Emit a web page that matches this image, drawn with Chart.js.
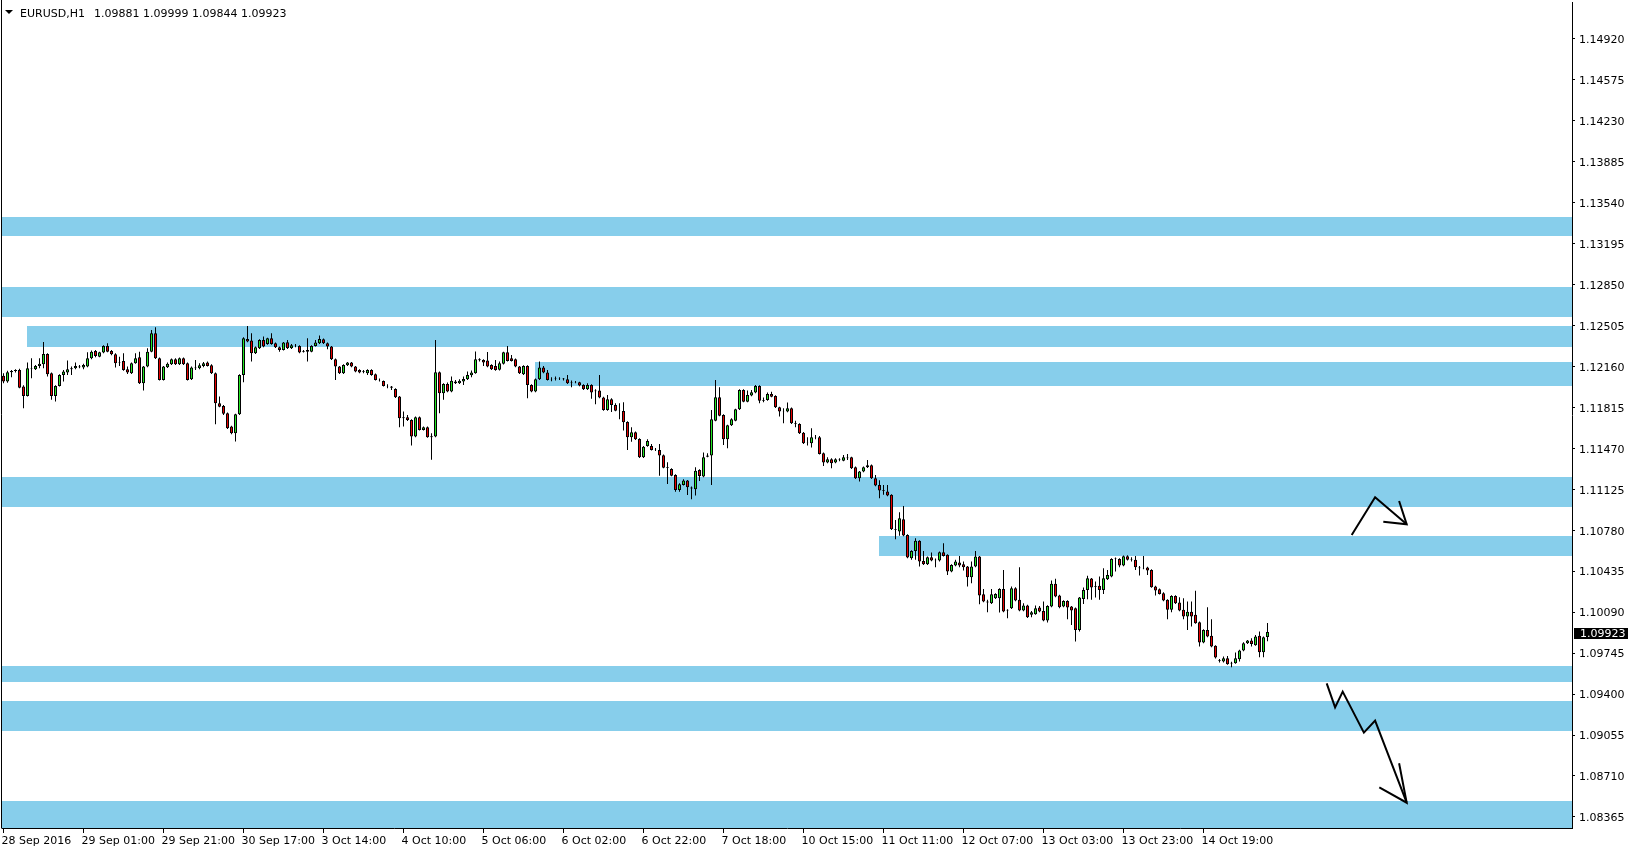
<!DOCTYPE html>
<html>
<head>
<meta charset="utf-8">
<title>EURUSD,H1</title>
<script src="https://cdn.jsdelivr.net/npm/chart.js@4.4.1/dist/chart.umd.min.js"></script>
<style>
  html, body { margin: 0; padding: 0; background: #fff; overflow: hidden; }
  #chart { display: block; }
</style>
</head>
<body>
<canvas id="chart" width="1632" height="852"></canvas>
<script>
/* ================= DATA ================= */
const symbol = 'EURUSD';
const period = 'H1';

// hourly candles, bar 0 = 28 Sep 2016 05:00
const opens = [
  1.12079, 1.12031, 1.12109, 1.12121, 1.12129, 1.11989, 1.11910, 1.12143, 1.12135, 1.12163,
  1.12177, 1.12264, 1.12101, 1.11910, 1.11994, 1.12087, 1.12107, 1.12135, 1.12143, 1.12157,
  1.12149, 1.12157, 1.12227, 1.12289, 1.12241, 1.12275, 1.12331, 1.12289, 1.12261, 1.12191,
  1.12205, 1.12135, 1.12101, 1.12185, 1.12236, 1.12017, 1.12157, 1.12283, 1.12438, 1.12227,
  1.12045, 1.12152, 1.12177, 1.12219, 1.12177, 1.12227, 1.12185, 1.12051, 1.12149, 1.12143,
  1.12163, 1.12191, 1.12168, 1.12101, 1.11848, 1.11826, 1.11764, 1.11652, 1.11596, 1.11756,
  1.12087, 1.12390, 1.12376, 1.12269, 1.12311, 1.12382, 1.12348, 1.12396, 1.12354, 1.12320,
  1.12297, 1.12362, 1.12311, 1.12337, 1.12331, 1.12281, 1.12297, 1.12283, 1.12331, 1.12354,
  1.12387, 1.12354, 1.12326, 1.12219, 1.12157, 1.12101, 1.12168, 1.12191, 1.12157, 1.12129,
  1.12112, 1.12101, 1.12129, 1.12093, 1.12045, 1.12036, 1.11994, 1.11989, 1.11969, 1.11905,
  1.11722, 1.11731, 1.11708, 1.11568, 1.11731, 1.11624, 1.11647, 1.11562, 1.11568, 1.12110,
  1.11933, 1.12011, 1.11947, 1.12031, 1.12017, 1.12031, 1.12051, 1.12084, 1.12101, 1.12219,
  1.12213, 1.12208, 1.12171, 1.12163, 1.12131, 1.12180, 1.12278, 1.12227, 1.12219, 1.12157,
  1.12093, 1.12163, 1.12003, 1.11947, 1.12051, 1.12149, 1.12107, 1.12051, 1.12053, 1.12056,
  1.12050, 1.12050, 1.12025, 1.12025, 1.12025, 1.12002, 1.11966, 1.12002, 1.11949, 1.11955,
  1.11896, 1.11792, 1.11882, 1.11834, 1.11786, 1.11783, 1.11691, 1.11562, 1.11604, 1.11548,
  1.11393, 1.11489, 1.11489, 1.11461, 1.11455, 1.11410, 1.11309, 1.11295, 1.11245, 1.11118,
  1.11161, 1.11197, 1.11138, 1.11124, 1.11287, 1.11231, 1.11399, 1.11408, 1.11702, 1.11899,
  1.11750, 1.11545, 1.11663, 1.11702, 1.11798, 1.11960, 1.11862, 1.11913, 1.11938, 1.11994,
  1.11870, 1.11876, 1.11927, 1.11910, 1.11814, 1.11783, 1.11778, 1.11806, 1.11680, 1.11674,
  1.11601, 1.11517, 1.11511, 1.11562, 1.11562, 1.11427, 1.11349, 1.11377, 1.11349, 1.11374,
  1.11365, 1.11391, 1.11393, 1.11309, 1.11217, 1.11273, 1.11309, 1.11326, 1.11217, 1.11161,
  1.11110, 1.11105, 1.11077, 1.10788, 1.10768, 1.10872, 1.10740, 1.10544, 1.10605, 1.10690,
  1.10521, 1.10493, 1.10552, 1.10530, 1.10524, 1.10594, 1.10572, 1.10431, 1.10482, 1.10507,
  1.10493, 1.10473, 1.10384, 1.10473, 1.10558, 1.10241, 1.10179, 1.10165, 1.10207, 1.10207,
  1.10285, 1.10103, 1.10123, 1.10291, 1.10193, 1.10103, 1.10145, 1.10067, 1.10072, 1.10128,
  1.10100, 1.10019, 1.10137, 1.10328, 1.10229, 1.10137, 1.10184, 1.10137, 1.10123, 1.09940,
  1.10201, 1.10277, 1.10372, 1.10302, 1.10311, 1.10277, 1.10367, 1.10389, 1.10541, 1.10538,
  1.10482, 1.10560, 1.10532, 1.10530, 1.10465, 1.10459, 1.10465, 1.10445, 1.10305, 1.10283,
  1.10249, 1.10193, 1.10109, 1.10226, 1.10170, 1.10109, 1.10053, 1.10092, 1.10067, 1.10005,
  1.09834, 1.09940, 1.09890, 1.09806, 1.09685, 1.09674, 1.09701, 1.09657, 1.09660, 1.09693,
  1.09766, 1.09828, 1.09851, 1.09811, 1.09890, 1.09752, 1.09881
];
const highs = [
  1.12101, 1.12123, 1.12129, 1.12135, 1.12138, 1.12000, 1.12191, 1.12227, 1.12171, 1.12227,
  1.12365, 1.12269, 1.12107, 1.12000, 1.12093, 1.12129, 1.12208, 1.12157, 1.12191, 1.12171,
  1.12180, 1.12278, 1.12292, 1.12297, 1.12283, 1.12337, 1.12354, 1.12297, 1.12269, 1.12241,
  1.12269, 1.12157, 1.12191, 1.12269, 1.12283, 1.12163, 1.12311, 1.12466, 1.12488, 1.12233,
  1.12163, 1.12191, 1.12225, 1.12227, 1.12233, 1.12233, 1.12191, 1.12157, 1.12213, 1.12185,
  1.12196, 1.12199, 1.12177, 1.12107, 1.11905, 1.11834, 1.11770, 1.11658, 1.11761, 1.12093,
  1.12404, 1.12499, 1.12438, 1.12326, 1.12387, 1.12410, 1.12401, 1.12438, 1.12359, 1.12326,
  1.12365, 1.12382, 1.12348, 1.12348, 1.12337, 1.12297, 1.12396, 1.12337, 1.12382, 1.12418,
  1.12393, 1.12359, 1.12331, 1.12225, 1.12163, 1.12177, 1.12196, 1.12196, 1.12163, 1.12135,
  1.12129, 1.12135, 1.12135, 1.12098, 1.12056, 1.12039, 1.12008, 1.11994, 1.11975, 1.11910,
  1.11779, 1.11750, 1.11714, 1.11736, 1.11736, 1.11652, 1.11652, 1.11596, 1.12382, 1.12115,
  1.12017, 1.12023, 1.12073, 1.12045, 1.12051, 1.12073, 1.12115, 1.12124, 1.12284, 1.12227,
  1.12219, 1.12281, 1.12177, 1.12213, 1.12199, 1.12283, 1.12331, 1.12255, 1.12225, 1.12163,
  1.12168, 1.12168, 1.12008, 1.12056, 1.12199, 1.12163, 1.12129, 1.12067, 1.12073, 1.12067,
  1.12061, 1.12087, 1.12039, 1.12036, 1.12030, 1.12008, 1.12016, 1.12008, 1.11966, 1.12087,
  1.11904, 1.11918, 1.11890, 1.11848, 1.11848, 1.11856, 1.11696, 1.11646, 1.11610, 1.11553,
  1.11489, 1.11545, 1.11506, 1.11472, 1.11506, 1.11416, 1.11351, 1.11301, 1.11250, 1.11175,
  1.11208, 1.11203, 1.11147, 1.11309, 1.11292, 1.11433, 1.11427, 1.11792, 1.12044, 1.11983,
  1.11755, 1.11668, 1.11722, 1.11803, 1.11966, 1.11966, 1.11955, 1.11960, 1.12002, 1.12000,
  1.11896, 1.11938, 1.11946, 1.11915, 1.11820, 1.11806, 1.11854, 1.11812, 1.11702, 1.11680,
  1.11607, 1.11562, 1.11638, 1.11581, 1.11573, 1.11433, 1.11393, 1.11385, 1.11385, 1.11385,
  1.11413, 1.11422, 1.11399, 1.11315, 1.11278, 1.11315, 1.11371, 1.11332, 1.11245, 1.11200,
  1.11161, 1.11161, 1.11082, 1.10866, 1.10931, 1.10984, 1.10746, 1.10611, 1.10712, 1.10695,
  1.10605, 1.10558, 1.10591, 1.10541, 1.10600, 1.10670, 1.10577, 1.10493, 1.10530, 1.10563,
  1.10516, 1.10479, 1.10516, 1.10605, 1.10563, 1.10285, 1.10193, 1.10285, 1.10249, 1.10291,
  1.10445, 1.10114, 1.10305, 1.10299, 1.10468, 1.10165, 1.10151, 1.10100, 1.10145, 1.10142,
  1.10179, 1.10148, 1.10356, 1.10370, 1.10235, 1.10190, 1.10190, 1.10142, 1.10128, 1.10218,
  1.10297, 1.10395, 1.10378, 1.10347, 1.10389, 1.10459, 1.10445, 1.10544, 1.10549, 1.10544,
  1.10566, 1.10569, 1.10552, 1.10563, 1.10479, 1.10563, 1.10471, 1.10451, 1.10311, 1.10288,
  1.10257, 1.10198, 1.10232, 1.10232, 1.10215, 1.10207, 1.10179, 1.10179, 1.10269, 1.10010,
  1.09946, 1.10131, 1.10030, 1.09811, 1.09696, 1.09716, 1.09721, 1.09671, 1.09749, 1.09772,
  1.09836, 1.09856, 1.09870, 1.09898, 1.09926, 1.09884, 1.09999
];
const lows = [
  1.12017, 1.12022, 1.12067, 1.12107, 1.11975, 1.11806, 1.11905, 1.12059, 1.12129, 1.12143,
  1.12143, 1.12073, 1.11877, 1.11863, 1.11989, 1.12031, 1.12087, 1.12087, 1.12135, 1.12143,
  1.12135, 1.12152, 1.12219, 1.12236, 1.12236, 1.12269, 1.12278, 1.12253, 1.12149, 1.12163,
  1.12123, 1.12095, 1.12095, 1.12180, 1.12011, 1.11955, 1.12152, 1.12278, 1.12222, 1.12039,
  1.12039, 1.12146, 1.12171, 1.12171, 1.12171, 1.12171, 1.12039, 1.12045, 1.12129, 1.12135,
  1.12152, 1.12157, 1.12095, 1.11672, 1.11815, 1.11750, 1.11632, 1.11588, 1.11526, 1.11750,
  1.12025, 1.12362, 1.12199, 1.12264, 1.12306, 1.12320, 1.12340, 1.12342, 1.12314, 1.12283,
  1.12292, 1.12306, 1.12306, 1.12320, 1.12269, 1.12275, 1.12199, 1.12278, 1.12326, 1.12348,
  1.12348, 1.12303, 1.12213, 1.12045, 1.12095, 1.12095, 1.12163, 1.12152, 1.12109, 1.12101,
  1.12101, 1.12087, 1.12081, 1.12039, 1.12031, 1.11989, 1.11975, 1.11961, 1.11893, 1.11646,
  1.11652, 1.11700, 1.11492, 1.11562, 1.11619, 1.11619, 1.11557, 1.11372, 1.11562, 1.11764,
  1.11877, 1.11941, 1.11941, 1.12011, 1.12011, 1.12003, 1.12045, 1.12068, 1.12096, 1.12199,
  1.12163, 1.12152, 1.12129, 1.12123, 1.12125, 1.12174, 1.12199, 1.12199, 1.12152, 1.12095,
  1.12087, 1.11891, 1.11941, 1.11941, 1.12045, 1.12101, 1.12039, 1.12034, 1.12039, 1.12045,
  1.12039, 1.12011, 1.11983, 1.12016, 1.11991, 1.11960, 1.11960, 1.11887, 1.11840, 1.11890,
  1.11786, 1.11786, 1.11775, 1.11781, 1.11713, 1.11618, 1.11455, 1.11525, 1.11539, 1.11388,
  1.11388, 1.11483, 1.11450, 1.11447, 1.11239, 1.11301, 1.11169, 1.11234, 1.11104, 1.11104,
  1.11155, 1.11076, 1.11040, 1.11071, 1.11194, 1.11225, 1.11393, 1.11161, 1.11696, 1.11739,
  1.11497, 1.11469, 1.11657, 1.11696, 1.11792, 1.11856, 1.11856, 1.11907, 1.11932, 1.11848,
  1.11856, 1.11870, 1.11899, 1.11809, 1.11736, 1.11680, 1.11772, 1.11674, 1.11646, 1.11590,
  1.11506, 1.11492, 1.11475, 1.11545, 1.11416, 1.11321, 1.11343, 1.11301, 1.11343, 1.11360,
  1.11360, 1.11371, 1.11295, 1.11211, 1.11189, 1.11267, 1.11304, 1.11211, 1.11150, 1.11049,
  1.11077, 1.11066, 1.10782, 1.10704, 1.10732, 1.10729, 1.10544, 1.10530, 1.10530, 1.10473,
  1.10487, 1.10487, 1.10518, 1.10468, 1.10516, 1.10558, 1.10403, 1.10426, 1.10476, 1.10468,
  1.10440, 1.10305, 1.10333, 1.10468, 1.10156, 1.10173, 1.10089, 1.10159, 1.10201, 1.10086,
  1.10089, 1.10038, 1.10117, 1.10182, 1.10097, 1.10097, 1.10041, 1.10047, 1.10067, 1.10089,
  1.10013, 1.10002, 1.10131, 1.10215, 1.10123, 1.10131, 1.10030, 1.09982, 1.09842, 1.09926,
  1.10159, 1.10198, 1.10193, 1.10213, 1.10193, 1.10243, 1.10361, 1.10384, 1.10431, 1.10468,
  1.10476, 1.10524, 1.10516, 1.10445, 1.10398, 1.10451, 1.10403, 1.10294, 1.10229, 1.10238,
  1.10182, 1.10030, 1.10089, 1.10159, 1.10097, 1.10030, 1.09940, 1.09968, 1.09991, 1.09800,
  1.09828, 1.09879, 1.09794, 1.09699, 1.09665, 1.09665, 1.09646, 1.09626, 1.09654, 1.09674,
  1.09761, 1.09822, 1.09800, 1.09806, 1.09710, 1.09710, 1.09844
];
const closes = [
  1.12031, 1.12109, 1.12121, 1.12129, 1.11980, 1.11910, 1.12143, 1.12138, 1.12163, 1.12180,
  1.12264, 1.12093, 1.11910, 1.11994, 1.12087, 1.12115, 1.12135, 1.12143, 1.12163, 1.12152,
  1.12171, 1.12227, 1.12283, 1.12247, 1.12278, 1.12331, 1.12283, 1.12261, 1.12185, 1.12196,
  1.12129, 1.12107, 1.12185, 1.12227, 1.12017, 1.12157, 1.12283, 1.12438, 1.12227, 1.12045,
  1.12157, 1.12180, 1.12219, 1.12177, 1.12227, 1.12177, 1.12045, 1.12149, 1.12143, 1.12168,
  1.12185, 1.12163, 1.12101, 1.11848, 1.11820, 1.11759, 1.11638, 1.11596, 1.11756, 1.12087,
  1.12396, 1.12368, 1.12269, 1.12320, 1.12382, 1.12326, 1.12396, 1.12348, 1.12320, 1.12297,
  1.12359, 1.12311, 1.12337, 1.12334, 1.12275, 1.12286, 1.12283, 1.12331, 1.12359, 1.12390,
  1.12354, 1.12326, 1.12219, 1.12157, 1.12101, 1.12171, 1.12191, 1.12157, 1.12115, 1.12107,
  1.12118, 1.12129, 1.12087, 1.12045, 1.12042, 1.11994, 1.11992, 1.11980, 1.11899, 1.11722,
  1.11731, 1.11708, 1.11568, 1.11731, 1.11624, 1.11647, 1.11562, 1.11571, 1.12110, 1.11933,
  1.12011, 1.11947, 1.12037, 1.12017, 1.12037, 1.12053, 1.12087, 1.12107, 1.12219, 1.12210,
  1.12191, 1.12157, 1.12135, 1.12129, 1.12185, 1.12278, 1.12205, 1.12205, 1.12157, 1.12101,
  1.12163, 1.12003, 1.11947, 1.12051, 1.12149, 1.12107, 1.12045, 1.12053, 1.12056, 1.12059,
  1.12056, 1.12016, 1.12022, 1.12028, 1.11997, 1.11966, 1.12002, 1.11938, 1.11955, 1.11896,
  1.11792, 1.11882, 1.11834, 1.11786, 1.11783, 1.11688, 1.11562, 1.11604, 1.11545, 1.11393,
  1.11483, 1.11531, 1.11455, 1.11464, 1.11408, 1.11306, 1.11304, 1.11239, 1.11118, 1.11166,
  1.11197, 1.11141, 1.11130, 1.11281, 1.11236, 1.11393, 1.11408, 1.11713, 1.11899, 1.11744,
  1.11545, 1.11663, 1.11713, 1.11798, 1.11960, 1.11862, 1.11918, 1.11941, 1.11994, 1.11870,
  1.11876, 1.11927, 1.11904, 1.11814, 1.11778, 1.11781, 1.11806, 1.11680, 1.11674, 1.11596,
  1.11511, 1.11520, 1.11562, 1.11559, 1.11422, 1.11349, 1.11377, 1.11343, 1.11377, 1.11371,
  1.11393, 1.11385, 1.11301, 1.11217, 1.11273, 1.11309, 1.11326, 1.11217, 1.11155, 1.11113,
  1.11116, 1.11071, 1.10788, 1.10782, 1.10880, 1.10734, 1.10549, 1.10605, 1.10690, 1.10516,
  1.10493, 1.10552, 1.10524, 1.10527, 1.10594, 1.10563, 1.10431, 1.10487, 1.10516, 1.10482,
  1.10468, 1.10384, 1.10473, 1.10558, 1.10229, 1.10179, 1.10170, 1.10241, 1.10243, 1.10285,
  1.10094, 1.10109, 1.10291, 1.10187, 1.10103, 1.10145, 1.10047, 1.10089, 1.10123, 1.10094,
  1.10019, 1.10142, 1.10328, 1.10221, 1.10131, 1.10184, 1.10128, 1.10103, 1.09940, 1.10213,
  1.10277, 1.10375, 1.10297, 1.10308, 1.10277, 1.10375, 1.10403, 1.10538, 1.10546, 1.10482,
  1.10560, 1.10530, 1.10538, 1.10468, 1.10459, 1.10457, 1.10440, 1.10299, 1.10271, 1.10243,
  1.10187, 1.10109, 1.10226, 1.10165, 1.10103, 1.10053, 1.10092, 1.10053, 1.09996, 1.09834,
  1.09940, 1.09884, 1.09800, 1.09707, 1.09679, 1.09701, 1.09651, 1.09663, 1.09701, 1.09766,
  1.09828, 1.09851, 1.09822, 1.09884, 1.09752, 1.09879, 1.09923
];

// time axis: a label every 20 bars
const xTickBars = [0, 20, 40, 60, 80, 100, 120, 140, 160, 180, 200, 220, 240, 260, 280, 300];
const xTickLabels = [
  '28 Sep 2016', '29 Sep 01:00', '29 Sep 21:00', '30 Sep 17:00', '3 Oct 14:00', '4 Oct 10:00',
  '5 Oct 06:00', '6 Oct 02:00', '6 Oct 22:00', '7 Oct 18:00', '10 Oct 15:00', '11 Oct 11:00',
  '12 Oct 07:00', '13 Oct 03:00', '13 Oct 23:00', '14 Oct 19:00'
];
const yTickValues = [
  1.08365, 1.08710, 1.09055, 1.09400, 1.09745, 1.10090, 1.10435, 1.10780, 1.11125, 1.11470,
  1.11815, 1.12160, 1.12505, 1.12850, 1.13195, 1.13540, 1.13885, 1.14230, 1.14575, 1.14920
];

// support / resistance zones (start bar, null = whole chart)
const zoneFrom   = [null,    null,    6,       133,     null,    219,     null,    null,    null];
const zoneTop    = [1.13415, 1.12826, 1.12499, 1.12199, 1.11231, 1.10731, 1.09637, 1.09342, 1.08500];
const zoneBottom = [1.13258, 1.12578, 1.12325, 1.11997, 1.10978, 1.10563, 1.09505, 1.09092, 1.08200];

// hand drawn arrows (bar, price)
const arrowUpX      = [337.05, 342.9, 350.8];
const arrowUpY      = [1.10739, 1.11057, 1.10829];
const arrowUpHeadX  = [348.9, 350.8, 344.95];
const arrowUpHeadY  = [1.11025, 1.10829, 1.10851];
const arrowDownX     = [330.8, 332.9, 334.8, 340.1, 342.9, 350.8];
const arrowDownY     = [1.09490, 1.09288, 1.09420, 1.09075, 1.09176, 1.08485];
const arrowDownHeadX = [348.9, 350.8, 343.95];
const arrowDownHeadY = [1.08817, 1.08485, 1.08615];

/* ================= STYLE ================= */
const BULL = '#22e622';
const BEAR = '#e60000';
const ZONE = '#87ceeb';

Chart.defaults.font.family = "'DejaVu Sans'";
Chart.defaults.font.size = 11;
Chart.defaults.color = '#000';

/* ================= HELPERS ================= */
function points(xs, ys) {
    return xs.map((x, i) => ({ x: x, y: ys[i] }));
}

function arrowDataset(xs, ys) {
    return {
        type: 'line',
        data: points(xs, ys),
        borderColor: '#000',
        borderWidth: 2,
        pointRadius: 0,
        fill: false,
        tension: 0,
        order: -1
    };
}

/* ================= PLUGINS ================= */
const zonePlugin = {
    id: 'zones',
    beforeDatasetsDraw(chart) {
        const { ctx, chartArea, scales: { x, y } } = chart;
        ctx.save();
        ctx.fillStyle = ZONE;
        zoneTop.forEach((top, i) => {
            const x1 = zoneFrom[i] === null ? chartArea.left : Math.floor(x.getPixelForValue(zoneFrom[i]));
            const y1 = Math.round(y.getPixelForValue(top));
            const y2 = Math.min(Math.round(y.getPixelForValue(zoneBottom[i])), chartArea.bottom);
            ctx.fillRect(x1, y1, chartArea.right - x1, y2 - y1);
        });
        ctx.restore();
    }
};

const framePlugin = {
    id: 'frame',
    afterDraw(chart) {
        const { ctx, chartArea, scales: { y } } = chart;
        const n = closes.length - 1;
        ctx.save();

        // left frame line
        ctx.strokeStyle = '#000';
        ctx.lineWidth = 1;
        ctx.beginPath();
        ctx.moveTo(chartArea.left - 0.5, 0);
        ctx.lineTo(chartArea.left - 0.5, chartArea.bottom + 0.5);
        ctx.stroke();

        // header: symbol + last bar OHLC
        ctx.fillStyle = '#000';
        ctx.beginPath();
        ctx.moveTo(5, 10);
        ctx.lineTo(13, 10);
        ctx.lineTo(9, 14);
        ctx.closePath();
        ctx.fill();
        ctx.font = "11px 'DejaVu Sans'";
        ctx.textBaseline = 'alphabetic';
        ctx.fillText(symbol + ',' + period, 20, 17);
        ctx.fillText([opens[n], highs[n], lows[n], closes[n]].map(v => v.toFixed(5)).join(' '), 94, 17);

        // current price tag
        const py = Math.round(y.getPixelForValue(closes[n]));
        ctx.fillRect(chartArea.right + 2, py - 4, 54, 11);
        ctx.fillStyle = '#fff';
        ctx.textBaseline = 'middle';
        ctx.fillText(closes[n].toFixed(5), chartArea.right + 8, py + 2);
        ctx.restore();
    }
};

/* ================= CHART ================= */
function renderChart() {
    const count = Math.min(opens.length, highs.length, lows.length, closes.length);
    const wicks = [];
    const bodies = [];
    const colors = [];
    for (let i = 0; i < count; i++) {
        wicks.push({ x: i, y: [lows[i], highs[i]] });
        bodies.push({ x: i, y: [opens[i], closes[i]] });
        colors.push(closes[i] >= opens[i] ? BULL : BEAR);
    }

    new Chart(document.getElementById('chart'), {
        type: 'bar',
        data: {
            datasets: [
                {
                    data: bodies,
                    backgroundColor: colors,
                    borderColor: '#000',
                    borderWidth: 1,
                    borderSkipped: false,
                    barThickness: 3,
                    inflateAmount: 0,
                    grouped: false,
                    order: 1
                },
                {
                    data: wicks,
                    backgroundColor: '#000',
                    borderWidth: 0,
                    barThickness: 1,
                    inflateAmount: 0,
                    grouped: false,
                    order: 2
                },
                arrowDataset(arrowUpX, arrowUpY),
                arrowDataset(arrowUpHeadX, arrowUpHeadY),
                arrowDataset(arrowDownX, arrowDownY),
                arrowDataset(arrowDownHeadX, arrowDownHeadY)
            ]
        },
        options: {
            responsive: false,
            animation: false,
            events: [],
            layout: { padding: { left: 2, top: 2, right: 0, bottom: 0 } },
            plugins: { legend: { display: false }, tooltip: { enabled: false } },
            scales: {
                x: {
                    type: 'linear',
                    min: -0.375,
                    max: 392.125,
                    offset: false,
                    bounds: 'data',
                    grid: { drawOnChartArea: false, drawTicks: true, tickLength: 5, color: '#000', offset: false },
                    border: { display: true, color: '#000', width: 1 },
                    ticks: {
                        autoSkip: false,
                        maxRotation: 0,
                        minRotation: 0,
                        align: 'start',
                        labelOffset: -2,
                        padding: 2,
                        color: '#000',
                        callback: (value) => xTickLabels[xTickBars.indexOf(value)]
                    },
                    afterBuildTicks: (scale) => { scale.ticks = xTickBars.map(v => ({ value: v })); },
                    afterFit: (scale) => {
                        scale.height = 24;
                        scale.paddingLeft = 0;
                        scale.paddingRight = 0;
                    }
                },
                y: {
                    type: 'linear',
                    position: 'right',
                    min: 1.08272,
                    max: 1.15227,
                    beginAtZero: false,
                    bounds: 'data',
                    grid: { drawOnChartArea: false, drawTicks: true, tickLength: 3, color: '#000' },
                    border: { display: true, color: '#000', width: 1 },
                    ticks: {
                        padding: 4,
                        labelOffset: 1.5,
                        color: '#000',
                        callback: (value) => value.toFixed(5)
                    },
                    afterBuildTicks: (scale) => { scale.ticks = yTickValues.map(v => ({ value: v })); },
                    afterFit: (scale) => {
                        scale.width = 60;
                        scale.paddingTop = 0;
                        scale.paddingBottom = 0;
                    }
                }
            }
        },
        plugins: [zonePlugin, framePlugin]
    });
}

renderChart();
</script>
</body>
</html>
